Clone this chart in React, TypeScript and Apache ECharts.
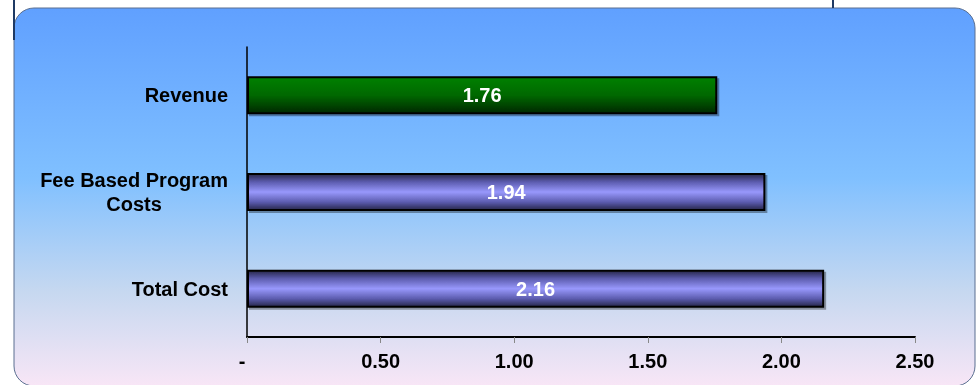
import React, { useEffect, useRef } from "react";
import * as echarts from "echarts";

const categories = ["Revenue", "Fee Based Program\nCosts", "Total Cost"];
const values = [1.76, 1.94, 2.16];
const barKinds = ["green", "purple", "purple"];
const xTicks = { min: 0, max: 2.5, interval: 0.5 };

const greenFill = new echarts.graphic.LinearGradient(0, 0, 0, 1, [
  { offset: 0, color: "#008000" },
  { offset: 0.5, color: "#006800" },
  { offset: 1, color: "#002800" },
]);
const purpleFill = () =>
  new echarts.graphic.LinearGradient(0, 0, 0, 1, [
    { offset: 0, color: "#26264a" },
    { offset: 0.22, color: "#5c5cae" },
    { offset: 0.5, color: "#9898fc" },
    { offset: 0.78, color: "#5c5cae" },
    { offset: 1, color: "#26264a" },
  ]);

export default function App() {
  const ref = useRef<HTMLDivElement>(null);
  useEffect(() => {
    if (!ref.current) return;
    const chart = echarts.init(ref.current, undefined, { renderer: "svg" });
    const data = values.map((v, i) => ({
      value: v,
      itemStyle: {
        color: barKinds[i] === "green" ? greenFill : purpleFill(),
      },
    }));
    chart.setOption({
      animation: false,
      graphic: [
        {
          type: "rect",
          z: -10,
          shape: { x: 14, y: 8, width: 961, height: 378, r: 20 },
          style: {
            fill: new echarts.graphic.LinearGradient(0, 0, 0, 1, [
              { offset: 0, color: "#60a0ff" },
              { offset: 0.45, color: "#80c0ff" },
              { offset: 0.75, color: "#c6d8f0" },
              { offset: 1, color: "#f8e6f6" },
            ]),
            stroke: "#5a6f90",
            lineWidth: 1,
          },
        },
        {
          type: "line",
          z: -5,
          shape: { x1: 14, y1: 0, x2: 14, y2: 40 },
          style: { stroke: "#1f3a64", lineWidth: 2 },
        },
        {
          type: "line",
          z: -5,
          shape: { x1: 833, y1: 0, x2: 833, y2: 8 },
          style: { stroke: "#1f3a64", lineWidth: 2 },
        },
      ],
      grid: { left: 247, right: 62, top: 47, bottom: 48, containLabel: false },
      xAxis: {
        type: "value",
        min: xTicks.min,
        max: xTicks.max,
        interval: xTicks.interval,
        splitLine: { show: false },
        axisLine: { show: true, lineStyle: { color: "#000", width: 2 } },
        axisTick: { show: true, length: 6, lineStyle: { color: "#888" } },
        axisLabel: {
          margin: 14,
          color: "#000",
          fontFamily: "Liberation Sans",
          fontWeight: "bold",
          fontSize: 20,
          formatter: (v: number) => (v === 0 ? "{z|-}" : v.toFixed(2)),
          rich: {
            z: {
              color: "#000",
              fontFamily: "Liberation Sans",
              fontWeight: "bold",
              fontSize: 20,
              padding: [0, 10, 0, 0],
            },
          },
        },
      },
      yAxis: {
        type: "category",
        inverse: true,
        data: categories,
        axisLine: { show: true, lineStyle: { color: "#000", width: 1.5 } },
        axisTick: { show: false },
        axisLabel: {
          margin: 19,
          align: "right",
          formatter: (v: string) =>
            v
              .split("\n")
              .map((l) => `{c|${l}}`)
              .join("\n"),
          rich: {
            c: {
              fontFamily: "Liberation Sans",
              fontWeight: "bold",
              fontSize: 20,
              color: "#000",
              align: "center",
              lineHeight: 24,
            },
          },
        },
      },
      series: [
        {
          type: "bar",
          data,
          barWidth: 38,
          itemStyle: {
            borderColor: "#000",
            borderWidth: 2,
            shadowColor: "rgba(0,0,0,0.35)",
            shadowOffsetX: 2,
            shadowOffsetY: 2,
            shadowBlur: 1,
          },
          label: {
            show: true,
            position: "inside",
            color: "#fff",
            fontFamily: "Liberation Sans",
            fontWeight: "bold",
            fontSize: 20,
            formatter: (p: any) => Number(p.value).toFixed(2),
          },
        },
      ],
    });
    return () => chart.dispose();
  }, []);
  return (
    <div
      ref={ref}
      style={{ position: "fixed", left: 0, top: 0, width: 977, height: 385 }}
    />
  );
}
